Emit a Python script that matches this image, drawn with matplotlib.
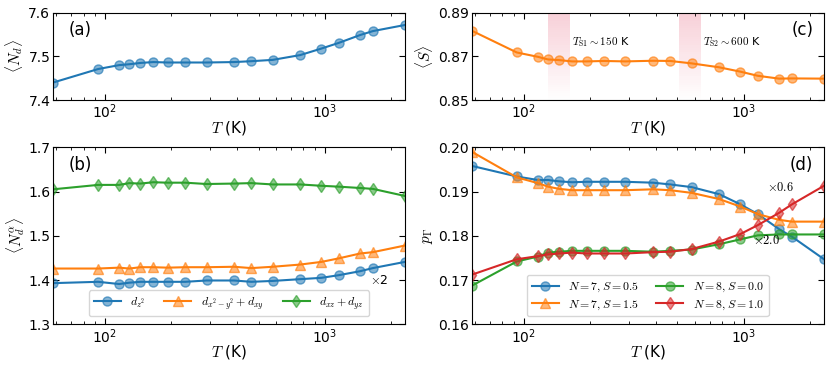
import numpy as np
import matplotlib
matplotlib.use('Agg')
import matplotlib.pyplot as plt
from matplotlib.ticker import LogLocator, NullFormatter

plt.rcParams['mathtext.fontset'] = 'cm'
plt.rcParams['font.size'] = 10

# temperatures (K)
T = [58, 93, 116, 129, 145, 166, 193, 232, 290, 387, 464, 580, 774, 967, 1160, 1451, 1658, 2321]

# (a) total d occupation
n_d = [7.440, 7.471, 7.480, 7.482, 7.485, 7.487, 7.486, 7.486, 7.486, 7.487, 7.489, 7.492,
       7.503, 7.518, 7.531, 7.549, 7.558, 7.572]

# (b) orbital resolved occupations
n_z2 = [1.393, 1.396, 1.391, 1.394, 1.396, 1.396, 1.396, 1.396, 1.399, 1.399, 1.396, 1.398,
        1.402, 1.405, 1.411, 1.420, 1.427, 1.441]
n_x2y2_xy = [1.426, 1.426, 1.428, 1.426, 1.429, 1.429, 1.428, 1.429, 1.429, 1.430, 1.427, 1.430,
             1.435, 1.441, 1.449, 1.460, 1.463, 1.478]
n_xz_yz = [1.605, 1.615, 1.615, 1.619, 1.618, 1.621, 1.620, 1.620, 1.617, 1.618, 1.619, 1.616,
           1.616, 1.613, 1.611, 1.608, 1.606, 1.590]
orb_labels = [r'$d_{z^2}$', r'$d_{x^2-y^2}+d_{xy}$', r'$d_{xz}+d_{yz}$']

# (c) spin
S = [0.8818, 0.8718, 0.8698, 0.8686, 0.8683, 0.8677, 0.8677, 0.8679, 0.8677, 0.8680, 0.8679,
     0.8668, 0.8650, 0.8630, 0.8611, 0.8598, 0.8599, 0.8598]
spans = [(129, 163), (507, 638)]
span_labels = [r'$T_{\rm S1}\sim150$ K', r'$T_{\rm S2}\sim600$ K']

# (d) state probabilities
p_n7_s05 = [0.1958, 0.1934, 0.1926, 0.1926, 0.1923, 0.1921, 0.1922, 0.1922, 0.1922, 0.1920,
            0.1916, 0.1910, 0.1894, 0.1871, 0.1849, 0.1815, 0.1798, 0.1747]
p_n7_s15 = [0.1990, 0.1932, 0.1919, 0.1911, 0.1906, 0.1903, 0.1903, 0.1903, 0.1903, 0.1905,
            0.1903, 0.1897, 0.1883, 0.1866, 0.1849, 0.1836, 0.1832, 0.1832]
p_n8_s00 = [0.1687, 0.1742, 0.1753, 0.1762, 0.1764, 0.1766, 0.1766, 0.1766, 0.1766, 0.1764,
            0.1766, 0.1769, 0.1781, 0.1792, 0.1801, 0.1803, 0.1803, 0.1803]
p_n8_s10 = [0.1712, 0.1747, 0.1754, 0.1758, 0.1760, 0.1762, 0.1760, 0.1760, 0.1760, 0.1763,
            0.1764, 0.1770, 0.1787, 0.1804, 0.1824, 0.1852, 0.1871, 0.1913]
state_labels = [r'$N=7, S=0.5$', r'$N=7, S=1.5$', r'$N=8, S=0.0$', r'$N=8, S=1.0$']

C = ['tab:blue', 'tab:orange', 'tab:green', 'tab:red']


def draw(ax, y, color, marker, label=None):
    ax.plot(T, y, '-', color=color, lw=1.5, marker=marker, ms=6.5,
            mfc=matplotlib.colors.to_rgba(color, 0.55),
            mec=matplotlib.colors.to_rgba(color, 0.65), mew=1.0, label=label)


def style(ax, ylim, yticks, letter, pos, right=False):
    ax.set_xscale('log')
    ax.set_xlim(T[0], T[-1])
    ax.xaxis.set_major_locator(LogLocator(base=10, numticks=10))
    ax.xaxis.set_minor_locator(LogLocator(base=10, subs=np.arange(2, 10), numticks=100))
    ax.xaxis.set_minor_formatter(NullFormatter())
    ax.set_ylim(*ylim)
    ax.set_yticks(yticks)
    ax.tick_params(which='both', direction='in', top=True, right=True)
    ax.tick_params(which='major', length=4, pad=2)
    ax.tick_params(which='minor', length=2.5)
    ax.set_xlabel(r'$T$ (K)', fontsize=11, labelpad=-2)
    ax.text(pos[0], pos[1], letter, transform=ax.transAxes,
            ha='right' if right else 'left', va='center', fontsize=12)


fig = plt.figure(figsize=(8.3, 3.65), dpi=100)
ax_a = fig.add_axes([0.0639, 0.726, 0.424, 0.239])
ax_c = fig.add_axes([0.5683, 0.726, 0.4245, 0.239])
ax_b = fig.add_axes([0.0639, 0.1115, 0.424, 0.485])
ax_d = fig.add_axes([0.5683, 0.1115, 0.4245, 0.485])

# (a)
draw(ax_a, n_d, C[0], 'o')
style(ax_a, (7.4, 7.6), [7.4, 7.5, 7.6], '(a)', (0.045, 0.8))
ax_a.set_ylabel(r'$\langle N_d \rangle$', fontsize=11, labelpad=2)

# (b)
draw(ax_b, n_z2, C[0], 'o', orb_labels[0])
draw(ax_b, n_x2y2_xy, C[1], '^', orb_labels[1])
draw(ax_b, n_xz_yz, C[2], 'd', orb_labels[2])
style(ax_b, (1.3, 1.7), [1.3, 1.4, 1.5, 1.6, 1.7], '(b)', (0.045, 0.9))
ax_b.set_ylabel(r'$\langle N_d^\alpha \rangle$', fontsize=11, labelpad=1)
ax_b.text(0.927, 0.25, r'$\times$2', transform=ax_b.transAxes, fontsize=9, ha='center', va='center')
ax_b.legend(loc='lower center', ncol=3, fontsize=8.5, bbox_to_anchor=(0.5, 0.045),
            borderaxespad=0, columnspacing=1.6, handlelength=2.3)

# (c)
for (lo, hi), lab in zip(spans, span_labels):
    n = 40
    for i in range(n):
        ax_c.axvspan(lo, hi, ymin=i / n, ymax=(i + 1) / n, color='crimson',
                     alpha=0.2 * (i + 0.5) / n, lw=0)
    ax_c.text(hi * 1.02, 0.8765, lab, fontsize=8, ha='left', va='center')
draw(ax_c, S, C[1], 'o')
style(ax_c, (0.85, 0.89), [0.85, 0.87, 0.89], '(c)', (0.97, 0.8), right=True)
ax_c.set_ylabel(r'$\langle S \rangle$', fontsize=11, labelpad=2)

# (d)
draw(ax_d, p_n7_s05, C[0], 'o', state_labels[0])
draw(ax_d, p_n7_s15, C[1], '^', state_labels[1])
draw(ax_d, p_n8_s00, C[2], 'o', state_labels[2])
draw(ax_d, p_n8_s10, C[3], 'd', state_labels[3])
style(ax_d, (0.16, 0.20), [0.16, 0.17, 0.18, 0.19, 0.20], '(d)', (0.97, 0.9), right=True)
ax_d.set_ylabel(r'$p_\Gamma$', fontsize=11, labelpad=2)
ax_d.text(0.877, 0.772, r'$\times0.6$', transform=ax_d.transAxes, fontsize=9, ha='center', va='center')
ax_d.text(0.836, 0.476, r'$\times2.0$', transform=ax_d.transAxes, fontsize=9, ha='center', va='center')
ax_d.legend(loc='lower center', ncol=2, fontsize=8.5, bbox_to_anchor=(0.5, 0.045),
            borderaxespad=0, columnspacing=1.4, handlelength=2.3, labelspacing=0.3)

fig.savefig('out.png', dpi=100)
